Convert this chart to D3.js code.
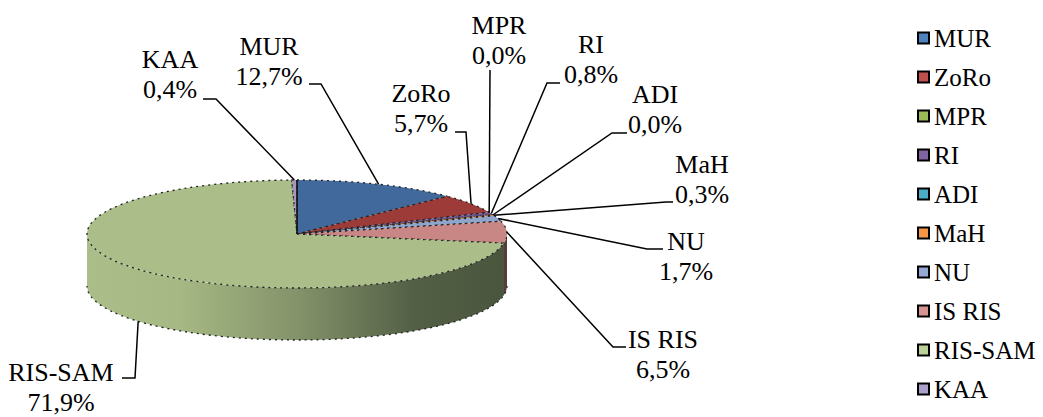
<!DOCTYPE html>
<html>
<head>
<meta charset="utf-8">
<script src="https://cdn.jsdelivr.net/npm/d3@7/dist/d3.min.js"></script>
</head>
<body style="margin:0">
<svg id="chart" width="1043" height="417"></svg>
<script>
// ---- data ----
const categories = ["MUR", "ZoRo", "MPR", "RI", "ADI", "MaH", "NU", "IS RIS", "RIS-SAM", "KAA"];
const values = [12.7, 5.7, 0.0, 0.8, 0.0, 0.3, 1.7, 6.5, 71.9, 0.4];
const valueLabels = ["12,7%", "5,7%", "0,0%", "0,8%", "0,0%", "0,3%", "1,7%", "6,5%", "71,9%", "0,4%"];

// ---- style ----
const legendColors = ["#4F81BD", "#C0504D", "#9BBB59", "#8064A2", "#4BACC6", "#F79646", "#93A9D1", "#D69492", "#BCD197", "#AA9FC9"];
const topColors = ["#42699c", "#9c3b38", "#8fae52", "#6e5690", "#3f97ae", "#d9833b", "#8ea5cc", "#c88684", "#abbd88", "#a598bb"];

// ---- layout (label centres / first baselines, leader elbows) ----
const labelLayout = [
  { cx: 269, y: 55,  leader: [[309, 84], [321, 84]] },
  { cx: 421, y: 102, leader: [[455, 132], [466, 132]] },
  { cx: 499, y: 34,  leader: [[490, 70]] },
  { cx: 591, y: 53,  leader: [[560, 83], [547, 83]] },
  { cx: 655, y: 103, leader: [[627, 133], [612, 133]] },
  { cx: 702, y: 173, leader: [[673, 202], [666, 202]] },
  { cx: 686, y: 250, leader: [[663, 249], [647, 249]] },
  { cx: 663, y: 348, leader: [[626, 347], [613, 347]] },
  { cx: 61,  y: 381, leader: [[122, 378], [135, 378]] },
  { cx: 170, y: 68,  leader: [[203, 99], [216, 99]] }
];

const svg = d3.select("#chart");
const cx = 297, cy = 234, rx = 210, ry = 54, depth = 52;
const lineGap = 30;

const pie = d3.pie().sort(null).value(d => d).startAngle(0).endAngle(2 * Math.PI);
const arcs = pie(values);

const px = a => cx + rx * Math.sin(a);
const py = a => cy - ry * Math.cos(a);

function topPath(a0, a1) {
  if (a1 - a0 <= 1e-9) return "";
  const large = (a1 - a0) > Math.PI ? 1 : 0;
  return `M${cx},${cy}L${px(a0)},${py(a0)}A${rx},${ry} 0 ${large} 1 ${px(a1)},${py(a1)}Z`;
}
function sidePath(a0, a1) {
  const s = Math.max(a0, Math.PI / 2), e = Math.min(a1, 3 * Math.PI / 2);
  if (e - s <= 1e-9) return null;
  return `M${px(s)},${py(s)}A${rx},${ry} 0 0 1 ${px(e)},${py(e)}` +
         `L${px(e)},${py(e) + depth}A${rx},${ry} 0 0 0 ${px(s)},${py(s) + depth}Z`;
}

const defs = svg.append("defs");
topColors.forEach((c, i) => {
  const g = defs.append("linearGradient").attr("id", "side" + i)
    .attr("gradientUnits", "userSpaceOnUse")
    .attr("x1", cx - rx).attr("x2", cx + rx).attr("y1", 0).attr("y2", 0);
  const base = d3.color(c);
  const dark = d3.rgb(base.r * 0.43, base.g * 0.45, base.b * 0.45);
  [[0, 0], [0.22, 0.05], [0.5, 0.4], [0.78, 0.9], [1, 1]].forEach(([o, t]) => {
    g.append("stop").attr("offset", o).attr("stop-color", d3.interpolateRgb(base, dark)(t));
  });
});

arcs.forEach((d, i) => {
  const p = sidePath(d.startAngle, d.endAngle);
  if (p) svg.append("path").attr("d", p).attr("fill", `url(#side${i})`).attr("stroke", "none");
});
svg.append("path")
  .attr("d", `M${px(Math.PI / 2)},${py(Math.PI / 2) + depth}A${rx},${ry} 0 0 1 ${px(3 * Math.PI / 2)},${py(3 * Math.PI / 2) + depth}`)
  .attr("fill", "none").attr("stroke", "#222").attr("stroke-width", 1.3).attr("stroke-dasharray", "2 4");
arcs.forEach((d, i) => {
  const p = topPath(d.startAngle, d.endAngle);
  if (p) svg.append("path").attr("d", p).attr("fill", topColors[i])
    .attr("stroke", "#222").attr("stroke-width", 1.3).attr("stroke-dasharray", "2 4")
    .attr("stroke-linejoin", "round");
});
svg.append("line").attr("x1", cx).attr("y1", cy).attr("x2", px(0)).attr("y2", py(0))
  .attr("stroke", "#111").attr("stroke-width", 1.6);

// leaders
const line = d3.line();
arcs.forEach((d, i) => {
  const L = labelLayout[i];
  const mid = (d.startAngle + d.endAngle) / 2;
  let ax = px(mid), ay = py(mid);
  if (Math.cos(mid) < 0) ay += depth;
  svg.append("path").attr("d", line(L.leader.concat([[ax, ay]]))).attr("fill", "none")
    .attr("stroke", "#000").attr("stroke-width", 1.5);
});

// labels (two lines each)
const labelTexts = [];
categories.forEach((c, i) => {
  const L = labelLayout[i];
  labelTexts.push({ t: c, x: L.cx, y: L.y, a: "middle", s: 26 });
  labelTexts.push({ t: valueLabels[i], x: L.cx, y: L.y + lineGap, a: "middle", s: 26 });
});
// legend
const legY = d3.scalePoint().domain(categories).range([47, 398]);
categories.forEach((c, i) => {
  const y = legY(c);
  svg.append("rect").attr("x", 918).attr("y", y - 14.5).attr("width", 11).attr("height", 11)
    .attr("fill", legendColors[i]).attr("stroke", "#000").attr("stroke-width", 2);
  labelTexts.push({ t: c, x: 934, y: y, a: "start", s: 25 });
});

svg.selectAll("text.lbl").data(labelTexts).join("text")
  .attr("class", "lbl")
  .attr("x", d => d.x).attr("y", d => d.y)
  .attr("text-anchor", d => d.a)
  .attr("font-size", d => d.s)
  .attr("font-family", d => "Liberation Serif")
  .attr("style", "font-family: 'Liberation Serif' !important")
  .text(d => d.t);
</script>
</body>
</html>
